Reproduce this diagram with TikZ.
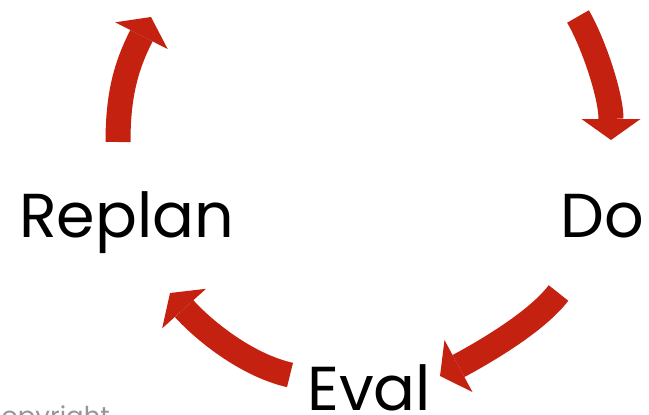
\documentclass[tikz,border=0pt]{standalone}
\usepackage{fontspec}
\setmainfont{Poppins}
\usetikzlibrary{arrows.meta}
\definecolor{arrowred}{RGB}{196,33,17}
\definecolor{notegray}{RGB}{150,150,150}

\begin{document}
\begin{tikzpicture}[x=1pt,y=-1pt,
    cyclearrow/.style={draw=arrowred, line width=25pt,
      -{Triangle[length=21pt,width=59pt,line width=0pt]}},
    steptext/.style={font=\fontsize{62}{62}\selectfont, inner sep=0pt, anchor=base west},
    copytext/.style={font=\fontsize{26}{26}\selectfont, text=notegray, inner sep=0pt, anchor=base west}]
        \useasboundingbox (0,0) rectangle (649,415);
        \clip (0,0) rectangle (649,415);

        % 标注步骤
        \node[steptext] (replan) at (19,237) {Replan};
        \node[steptext] (do) at (560,237) {Do};
        \node[steptext] (eval) at (307,410) {Eval};
        \node[copytext] (copy) at (-19,425) {Copyright};

        % 箭头端点
        \coordinate (tl-a) at (118,142);
        \coordinate (tl-b) at (151,17);
        \coordinate (tr-a) at (578,16.5);
        \coordinate (tr-b) at (611,140);
        \coordinate (br-a) at (558.5,293);
        \coordinate (br-b) at (440,376);
        \coordinate (bl-a) at (290,375);
        \coordinate (bl-b) at (170,293);

        % 绘制循环箭头
        \draw[cyclearrow] (tl-a) .. controls (118,95) and (126,66) .. (tl-b);
        \draw[cyclearrow] (tr-a) .. controls (593,42) and (611,95) .. (tr-b);
        \draw[cyclearrow] (br-a) .. controls (537.3,320.8) and (488.5,349.9) .. (br-b);
        \draw[cyclearrow] (bl-a) .. controls (246,365) and (203.4,330) .. (bl-b);
\end{tikzpicture}
\end{document}
